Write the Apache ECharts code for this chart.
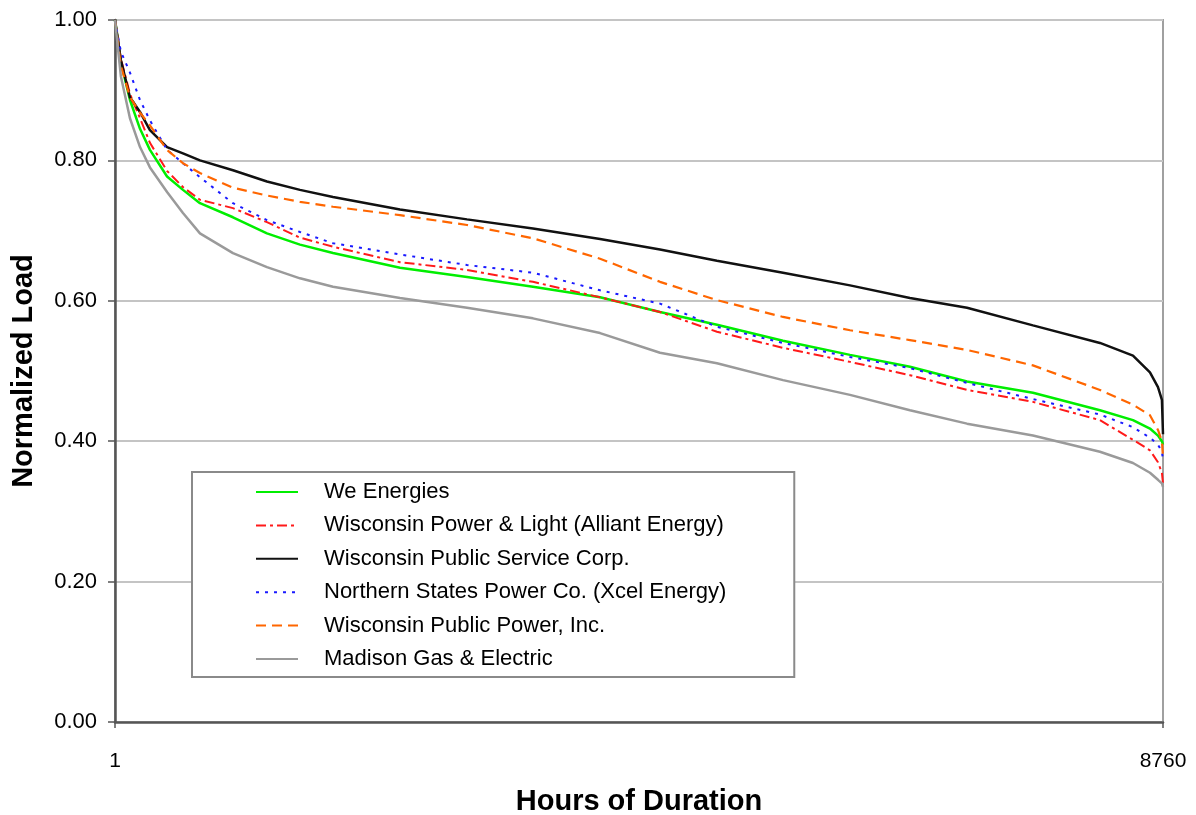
<!DOCTYPE html>
<html>
<head>
<meta charset="utf-8">
<script src="https://cdn.jsdelivr.net/npm/echarts@6/dist/echarts.min.js"></script>
<style>
html,body{margin:0;padding:0;background:#fff;}
#chart{width:1196px;height:815px;}
</style>
</head>
<body>
<div id="chart"></div>
<script>
// Hours of duration (x values)
const hours = [1, 50, 126, 210, 293, 436, 569, 711, 987, 1271, 1547, 1823, 2383, 2943, 3494, 4055, 4556, 5032, 5584, 6144, 6645, 7122, 7673, 8233, 8509, 8651, 8718, 8751, 8760];

const seriesNames = [
  "We Energies",
  "Wisconsin Power & Light (Alliant Energy)",
  "Wisconsin Public Service Corp.",
  "Northern States Power Co. (Xcel Energy)",
  "Wisconsin Public Power, Inc.",
  "Madison Gas & Electric"
];

const weEnergies = [1.00, 0.94, 0.886, 0.845, 0.815, 0.777, 0.758, 0.739, 0.719, 0.696, 0.680, 0.668, 0.647, 0.634, 0.620, 0.605, 0.584, 0.566, 0.543, 0.523, 0.506, 0.485, 0.469, 0.444, 0.430, 0.418, 0.408, 0.400, 0.395];
const wpl = [1.00, 0.945, 0.895, 0.86, 0.825, 0.785, 0.762, 0.744, 0.732, 0.712, 0.690, 0.677, 0.655, 0.644, 0.627, 0.605, 0.584, 0.556, 0.533, 0.513, 0.494, 0.473, 0.456, 0.430, 0.402, 0.387, 0.370, 0.355, 0.340];
const wps = [1.00, 0.943, 0.89, 0.869, 0.843, 0.819, 0.81, 0.80, 0.786, 0.770, 0.758, 0.748, 0.730, 0.716, 0.703, 0.688, 0.673, 0.657, 0.640, 0.622, 0.604, 0.590, 0.565, 0.540, 0.522, 0.498, 0.477, 0.459, 0.410];
const nsp = [1.00, 0.955, 0.925, 0.886, 0.857, 0.815, 0.796, 0.776, 0.739, 0.715, 0.698, 0.682, 0.666, 0.651, 0.640, 0.615, 0.596, 0.563, 0.540, 0.520, 0.504, 0.483, 0.460, 0.438, 0.420, 0.405, 0.395, 0.385, 0.373];
const wpp = [1.00, 0.935, 0.89, 0.868, 0.85, 0.815, 0.796, 0.782, 0.761, 0.750, 0.741, 0.734, 0.722, 0.708, 0.689, 0.660, 0.627, 0.601, 0.577, 0.558, 0.544, 0.530, 0.508, 0.473, 0.452, 0.437, 0.416, 0.400, 0.377];
const mge = [1.00, 0.92, 0.86, 0.819, 0.79, 0.755, 0.725, 0.696, 0.668, 0.648, 0.632, 0.620, 0.604, 0.590, 0.575, 0.554, 0.526, 0.511, 0.487, 0.466, 0.444, 0.425, 0.408, 0.385, 0.369, 0.355, 0.345, 0.340, 0.335];

const xTickLabels = [1, 8760];

const FONT = "'Liberation Sans', Arial, sans-serif";

function pairs(vals) { return hours.map((h, i) => [h, vals[i]]); }

const styles = [
  { data: weEnergies, color: '#00ee00', type: 'solid', width: 2.5 },
  { data: wpl, color: '#ff1a1a', type: [10, 4, 3, 4], width: 2 },
  { data: wps, color: '#111111', type: 'solid', width: 2.5 },
  { data: nsp, color: '#1a1aff', type: [3, 6], width: 2 },
  { data: wpp, color: '#ff6600', type: [10, 6], width: 2.2 },
  { data: mge, color: '#9a9a9a', type: 'solid', width: 2.5 }
];

const chart = echarts.init(document.getElementById('chart'), null, { renderer: 'canvas' });

chart.setOption({
  animation: false,
  backgroundColor: '#ffffff',
  textStyle: { fontFamily: FONT },
  grid: {
    left: 115, right: 33, top: 20, bottom: 93,
    containLabel: false,
    outerBoundsMode: 'none',
    show: true, borderColor: '#a0a0a0', borderWidth: 2, backgroundColor: '#ffffff'
  },
  legend: {
    orient: 'vertical',
    left: 192, top: 472,
    padding: [9, 68, 7, 63],
    backgroundColor: '#ffffff',
    borderColor: '#8a8a8a',
    borderWidth: 2,
    itemWidth: 42,
    itemHeight: 14,
    itemGap: 11.4,
    itemStyle: { opacity: 0 },
    textStyle: { fontFamily: FONT, fontSize: 22, color: '#000', lineHeight: 22, padding: [0, 0, 0, 21] },
    data: seriesNames
  },
  xAxis: {
    type: 'value',
    min: 1, max: 8760,
    name: 'Hours of Duration',
    nameLocation: 'middle',
    nameGap: 65,
    nameTextStyle: { fontFamily: FONT, fontSize: 29, fontWeight: 'bold', color: '#000' },
    axisLine: { show: true, lineStyle: { color: '#555', width: 2.5 } },
    axisTick: { show: true, customValues: xTickLabels, length: 6, lineStyle: { color: '#555', width: 1.5 } },
    axisLabel: { customValues: xTickLabels, fontFamily: FONT, fontSize: 21, color: '#000', margin: 29, formatter: v => String(v) },
    splitLine: { show: false }
  },
  yAxis: {
    type: 'value',
    min: 0, max: 1, interval: 0.2,
    name: 'Normalized Load',
    nameLocation: 'middle',
    nameGap: 77,
    nameTextStyle: { fontFamily: FONT, fontSize: 29, fontWeight: 'bold', color: '#000' },
    axisLine: { show: true, lineStyle: { color: '#555', width: 2.5 } },
    axisTick: { show: true, inside: false, length: 7, lineStyle: { color: '#555', width: 1.5 } },
    axisLabel: { fontFamily: FONT, fontSize: 22, color: '#000', margin: 18, formatter: v => v.toFixed(2) },
    splitLine: { show: true, lineStyle: { color: '#c4c4c4', width: 2 } }
  },
  series: styles.map((s, i) => ({
    name: seriesNames[i],
    type: 'line',
    data: pairs(s.data),
    symbol: 'none',
    smooth: false,
    color: s.color,
    lineStyle: { color: s.color, type: s.type, width: s.width },
    z: 2 + i
  }))
});
</script>
</body>
</html>
